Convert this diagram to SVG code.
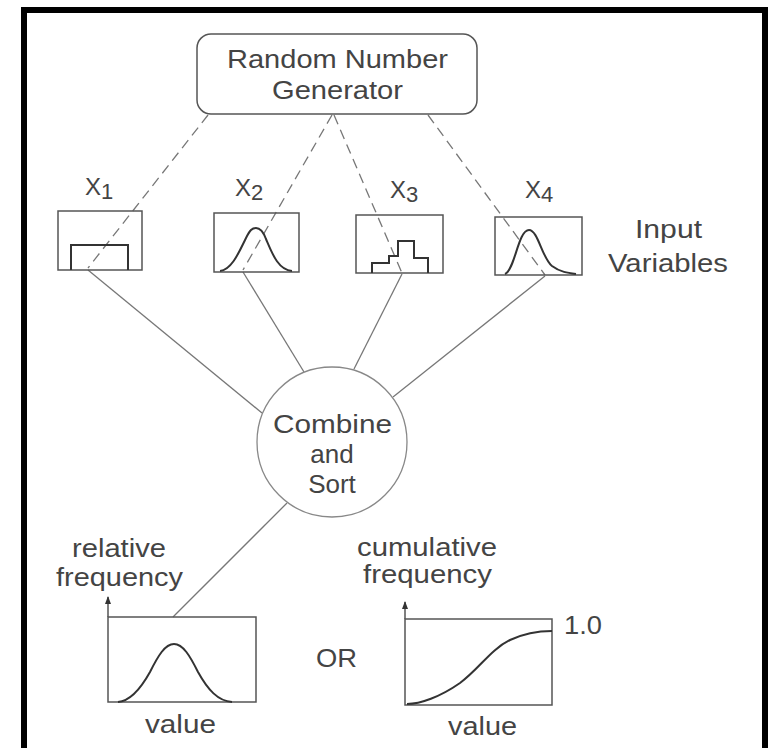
<svg xmlns="http://www.w3.org/2000/svg" width="771" height="748" viewBox="0 0 771 748">
<defs>
<style>
text{font-family:"Liberation Sans",Arial,sans-serif;fill:#444;}
.lbl{font-size:26px;}
.sm{font-size:25px;}
.xl{font-size:24px;}
.box{fill:none;stroke:#555;stroke-width:1.5;}
.curve{fill:none;stroke:#333;stroke-width:2;}
.dash{fill:none;stroke:#777;stroke-width:1.3;stroke-dasharray:10 6;}
.solid{fill:none;stroke:#777;stroke-width:1.3;}
.axis{stroke:#555;stroke-width:1.5;}
</style>
<marker id="arr" viewBox="0 0 8 6" refX="7" refY="3" markerWidth="8" markerHeight="6" markerUnits="userSpaceOnUse" orient="auto">
<path d="M0,0 L8,3 L0,6 Z" fill="#333"/>
</marker>
</defs>
<rect width="771" height="748" fill="#fff"/>
<path d="M24,752 V10 H765 V752" fill="none" stroke="#000" stroke-width="6"/>

<g id="connectors">
<line class="dash" x1="208" y1="115" x2="88" y2="268"/>
<line class="dash" x1="332" y1="115" x2="243" y2="270"/>
<line class="dash" x1="334" y1="115" x2="402" y2="273"/>
<line class="dash" x1="428" y1="115" x2="545" y2="275"/>
<line class="solid" x1="88" y1="270" x2="262" y2="413"/>
<line class="solid" x1="243" y1="272" x2="304" y2="372"/>
<line class="solid" x1="402" y1="274" x2="354" y2="369"/>
<line class="solid" x1="545" y1="276" x2="393" y2="397"/>
<line class="solid" x1="287" y1="503" x2="173" y2="617"/>
</g>

<g id="rng">
<rect class="box" x="197" y="34" width="280" height="80" rx="14"/>
<text class="lbl" x="227" y="68" textLength="221" lengthAdjust="spacingAndGlyphs">Random Number</text>
<text class="lbl" x="272" y="99" textLength="131" lengthAdjust="spacingAndGlyphs">Generator</text>
</g>

<g id="x1">
<text class="xl" x="85" y="195">X<tspan font-size="22" dy="4">1</tspan></text>
<rect class="box" x="58" y="211" width="84" height="59"/>
<path class="curve" d="M71,270 V245 H128 V270"/>
</g>

<g id="x2">
<text class="xl" x="235" y="196">X<tspan font-size="22" dy="4">2</tspan></text>
<rect class="box" x="214" y="213" width="85" height="59"/>
<path class="curve" d="M220,271 C232,270 240,250 246,238 C250,230 252,228 256,228 C260,228 263,231 266,239 C272,253 278,270 292,271"/>
</g>

<g id="x3">
<text class="xl" x="390" y="198">X<tspan font-size="22" dy="4">3</tspan></text>
<rect class="box" x="356" y="215" width="87" height="58"/>
<path class="curve" d="M372,273 V263 H389 V256 H398 V241 H414 V258 H428 V273"/>
</g>

<g id="x4">
<text class="xl" x="525" y="198">X<tspan font-size="22" dy="4">4</tspan></text>
<rect class="box" x="495" y="217" width="87" height="58"/>
<path class="curve" d="M505,274 C515,270 518,230 529,230 C538,230 542,258 552,266 C560,272 568,273 576,274"/>
</g>

<g id="input-label">
<text class="lbl" x="635" y="238" textLength="67" lengthAdjust="spacingAndGlyphs">Input</text>
<text class="lbl" x="608" y="272" textLength="120" lengthAdjust="spacingAndGlyphs">Variables</text>
</g>

<g id="combine">
<circle cx="332" cy="442" r="75" fill="none" stroke="#888" stroke-width="1.3"/>
<text class="lbl" x="273" y="433" textLength="119" lengthAdjust="spacingAndGlyphs">Combine</text>
<text class="lbl" x="332" y="463" text-anchor="middle">and</text>
<text class="lbl" x="332" y="493" text-anchor="middle">Sort</text>
</g>

<g id="relative-chart">
<text class="sm" x="72" y="557" textLength="94" lengthAdjust="spacingAndGlyphs">relative</text>
<text class="sm" x="56" y="586" textLength="127" lengthAdjust="spacingAndGlyphs">frequency</text>
<rect class="box" x="108" y="617" width="148" height="85"/>
<line class="axis" x1="108" y1="617" x2="108" y2="597" marker-end="url(#arr)"/>
<path class="curve" d="M118,702 C130,701 140,690 150,672 C158,656 165,644 174,644 C183,644 190,656 198,672 C208,690 218,701 232,702"/>
<text class="lbl" x="145" y="733" textLength="71" lengthAdjust="spacingAndGlyphs">value</text>
</g>

<g id="or">
<text class="lbl" x="316" y="667" textLength="41" lengthAdjust="spacingAndGlyphs">OR</text>
</g>

<g id="cumulative-chart">
<text class="sm" x="357" y="556" textLength="140" lengthAdjust="spacingAndGlyphs">cumulative</text>
<text class="sm" x="363" y="583" textLength="129" lengthAdjust="spacingAndGlyphs">frequency</text>
<rect class="box" x="405" y="619" width="147" height="86"/>
<line class="axis" x1="405" y1="619" x2="405" y2="602" marker-end="url(#arr)"/>
<path class="curve" d="M407,704 C420,704 440,697 460,683 C480,668 490,650 510,640 C525,633 540,631 552,631"/>
<text class="lbl" x="564" y="634" textLength="38" lengthAdjust="spacingAndGlyphs">1.0</text>
<text class="lbl" x="448" y="735" textLength="69" lengthAdjust="spacingAndGlyphs">value</text>
</g>
</svg>
